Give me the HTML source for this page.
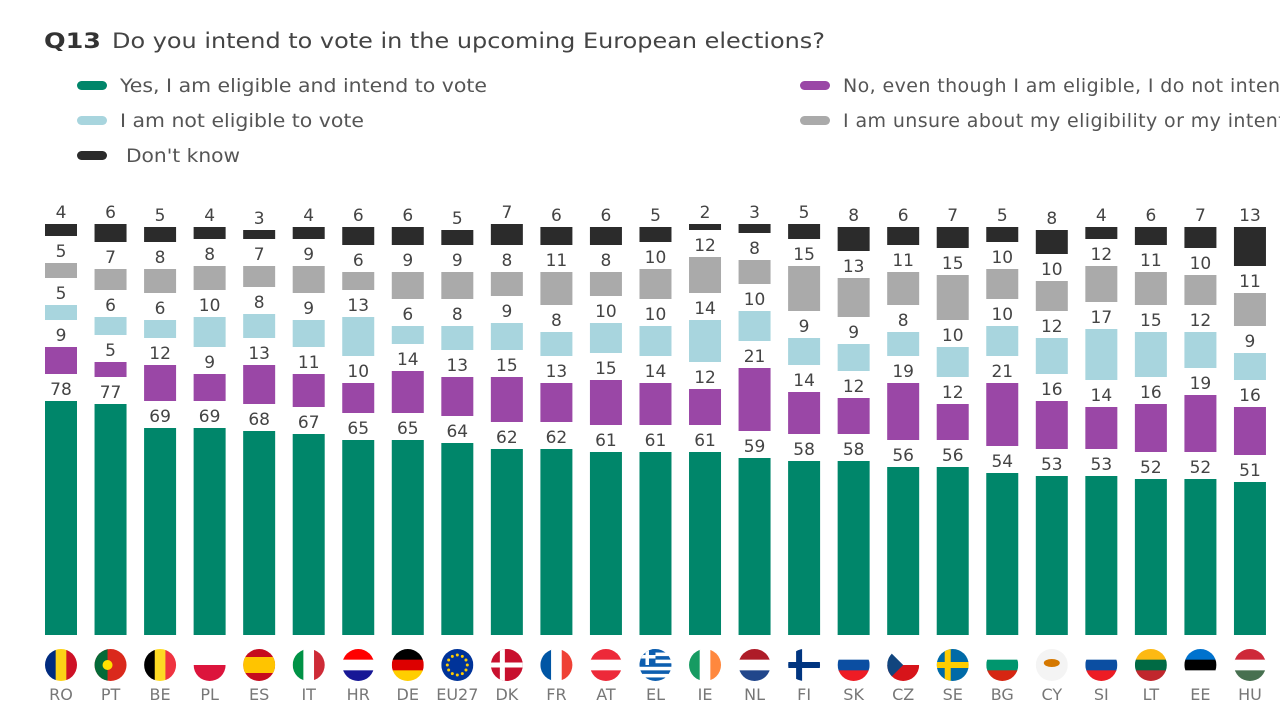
<!DOCTYPE html>
<html><head><meta charset="utf-8"><style>
html,body{margin:0;padding:0;background:#fff;width:1280px;height:720px;overflow:hidden}
svg{display:block;font-family:"DejaVu Sans","Liberation Sans",sans-serif}
</style></head><body>
<svg id="s" width="1280" height="720" xmlns="http://www.w3.org/2000/svg">
<text x="44" y="48" font-size="21" font-weight="bold" fill="#333" textLength="57" lengthAdjust="spacingAndGlyphs">Q13</text>
<text x="112" y="48" font-size="21" fill="#444" textLength="713" lengthAdjust="spacingAndGlyphs">Do you intend to vote in the upcoming European elections?</text>
<rect x="77" y="81" width="30" height="9" rx="4.5" fill="#00866a"/>
<text x="120" y="92" font-size="19" fill="#555" textLength="367" lengthAdjust="spacingAndGlyphs">Yes, I am eligible and intend to vote</text>
<rect x="77" y="116" width="30" height="9" rx="4.5" fill="#a8d5de"/>
<text x="120" y="127" font-size="19" fill="#555" textLength="244" lengthAdjust="spacingAndGlyphs">I am not eligible to vote</text>
<rect x="77" y="151" width="30" height="9" rx="4.5" fill="#2b2b2b"/>
<text x="126" y="162" font-size="19" fill="#555" textLength="114" lengthAdjust="spacingAndGlyphs">Don't know</text>
<rect x="800" y="81" width="30" height="9" rx="4.5" fill="#9a47a6"/>
<text x="843" y="92" font-size="19" fill="#555" letter-spacing="0.4">No, even though I am eligible, I do not intend to vote</text>
<rect x="800" y="116" width="30" height="9" rx="4.5" fill="#aaaaaa"/>
<text x="843" y="127" font-size="19" fill="#555" letter-spacing="0.4">I am unsure about my eligibility or my intention to vote</text>
<g id="g"></g>
</svg>
<script>
var C="RO PT BE PL ES IT HR DE EU27 DK FR AT EL IE NL FI SK CZ SE BG CY SI LT EE HU".split(" ");
var D=[
[78,77,69,69,68,67,65,65,64,62,62,61,61,61,59,58,58,56,56,54,53,53,52,52,51],
[9,5,12,9,13,11,10,14,13,15,13,15,14,12,21,14,12,19,12,21,16,14,16,19,16],
[5,6,6,10,8,9,13,6,8,9,8,10,10,14,10,9,9,8,10,10,12,17,15,12,9],
[5,7,8,8,7,9,6,9,9,8,11,8,10,12,8,15,13,11,15,10,10,12,11,10,11],
[4,6,5,4,3,4,6,6,5,7,6,6,5,2,3,5,8,6,7,5,8,4,6,7,13]];
var COL=["#00866a","#9a47a6","#a8d5de","#aaaaaa","#2b2b2b"];
var F={RO:["v","#002b7f","#fcd116","#ce1126"],PT:["v2"],BE:["v","#000","#fdda24","#ef3340"],
PL:["pl"],ES:["h3"],IT:["v","#009246","#fff","#ce2b37"],
HR:["h","#ff0000","#fff","#171796"],DE:["h","#000","#dd0000","#ffce00"],EU27:["s","#003399"],DK:["dk"],
FR:["v","#0055a4","#fff","#ef4135"],AT:["h","#ed2939","#fff","#ed2939"],EL:["el"],IE:["v","#169b62","#fff","#ff883e"],
NL:["h","#ae1c28","#fff","#21468b"],FI:["fi"],SK:["h","#fff","#0b4ea2","#ee1c25"],CZ:["cz"],SE:["se"],
BG:["h","#fff","#00966e","#d62612"],CY:["s","#f4f4f4"],SI:["h","#fff","#0b4ea2","#ed1c24"],LT:["h","#fdb913","#006a44","#c1272d"],
EE:["h","#0072ce","#000","#fff"],HU:["h","#ce2939","#fff","#477050"]};
var h="",S=3.0,GAP=27,W=32,R=16;
for(var i=0;i<25;i++){
 var cx=61+i*49.54,y=635;
 for(var k=0;k<5;k++){
  var v=D[k][i],hh=v*S;
  h+='<rect x="'+(cx-W/2)+'" y="'+(y-hh)+'" width="'+W+'" height="'+hh+'" fill="'+COL[k]+'"/>';
  h+='<text x="'+cx+'" y="'+(y-hh-6)+'" font-size="17" fill="#444" text-anchor="middle">'+v+'</text>';
  y=y-hh-GAP;
 }
 var fy=665,f=F[C[i]],x0=cx-R,y0=fy-R,d=2*R,t=d/3;
 h+='<clipPath id="c'+i+'"><circle cx="'+cx+'" cy="'+fy+'" r="'+R+'"/></clipPath><g clip-path="url(#c'+i+')">';
 var t0=f[0];
 if(t0=="v")for(var j=0;j<3;j++)h+='<rect x="'+(x0+j*t)+'" y="'+y0+'" width="'+(t+0.5)+'" height="'+d+'" fill="'+f[j+1]+'"/>';
 else if(t0=="h")for(var j=0;j<3;j++)h+='<rect x="'+x0+'" y="'+(y0+j*t)+'" width="'+d+'" height="'+(t+0.5)+'" fill="'+f[j+1]+'"/>';
 else if(t0=="pl"){h+='<rect x="'+x0+'" y="'+y0+'" width="'+d+'" height="'+d+'" fill="#fff"/><rect x="'+x0+'" y="'+fy+'" width="'+d+'" height="'+R+'" fill="#dc143c"/>';}
 else if(t0=="h3"){h+='<rect x="'+x0+'" y="'+y0+'" width="'+d+'" height="'+d+'" fill="#c60b1e"/><rect x="'+x0+'" y="'+(y0+8)+'" width="'+d+'" height="16" fill="#ffc400"/>';}
 else if(t0=="v2"){h+='<rect x="'+x0+'" y="'+y0+'" width="'+d+'" height="'+d+'" fill="#da291c"/><rect x="'+x0+'" y="'+y0+'" width="13" height="'+d+'" fill="#046a38"/><circle cx="'+(x0+13)+'" cy="'+fy+'" r="5" fill="#ffe000"/>';}
 else if(t0=="s"){h+='<rect x="'+x0+'" y="'+y0+'" width="'+d+'" height="'+d+'" fill="'+f[1]+'"/>';
  if(C[i]=="EU27")for(var a=0;a<12;a++)h+='<circle cx="'+(cx+10*Math.cos(a*Math.PI/6))+'" cy="'+(fy+10*Math.sin(a*Math.PI/6))+'" r="1.5" fill="#ffcc00"/>';
  else h+='<ellipse cx="'+cx+'" cy="'+(fy-2)+'" rx="8" ry="4" fill="#d57800"/>';}
 else if(t0=="dk"){h+='<rect x="'+x0+'" y="'+y0+'" width="'+d+'" height="'+d+'" fill="#c8102e"/><rect x="'+x0+'" y="'+(fy-2.5)+'" width="'+d+'" height="5" fill="#fff"/><rect x="'+(cx-7)+'" y="'+y0+'" width="5" height="'+d+'" fill="#fff"/>';}
 else if(t0=="fi"){h+='<rect x="'+x0+'" y="'+y0+'" width="'+d+'" height="'+d+'" fill="#fff"/><rect x="'+x0+'" y="'+(fy-3)+'" width="'+d+'" height="6" fill="#003580"/><rect x="'+(cx-8)+'" y="'+y0+'" width="6" height="'+d+'" fill="#003580"/>';}
 else if(t0=="se"){h+='<rect x="'+x0+'" y="'+y0+'" width="'+d+'" height="'+d+'" fill="#006aa7"/><rect x="'+x0+'" y="'+(fy-3)+'" width="'+d+'" height="6" fill="#fecc00"/><rect x="'+(cx-8)+'" y="'+y0+'" width="6" height="'+d+'" fill="#fecc00"/>';}
 else if(t0=="el"){for(var j=0;j<9;j++)h+='<rect x="'+x0+'" y="'+(y0+j*d/9)+'" width="'+d+'" height="'+(d/9+0.3)+'" fill="'+(j%2?"#fff":"#0d5eaf")+'"/>';h+='<rect x="'+x0+'" y="'+y0+'" width="16" height="16" fill="#0d5eaf"/><rect x="'+x0+'" y="'+(y0+6)+'" width="16" height="3.5" fill="#fff"/><rect x="'+(x0+6)+'" y="'+y0+'" width="3.5" height="16" fill="#fff"/>';}
 else if(t0=="cz"){h+='<rect x="'+x0+'" y="'+y0+'" width="'+d+'" height="'+R+'" fill="#fff"/><rect x="'+x0+'" y="'+fy+'" width="'+d+'" height="'+R+'" fill="#d7141a"/><polygon points="'+x0+','+y0+' '+cx+','+fy+' '+x0+','+(fy+R)+'" fill="#11457e"/>';}
 h+='</g>';
 h+='<text x="'+cx+'" y="700" font-size="16" fill="#777" text-anchor="middle">'+C[i]+'</text>';
}
document.getElementById("g").innerHTML=h;
</script>
</body></html>
